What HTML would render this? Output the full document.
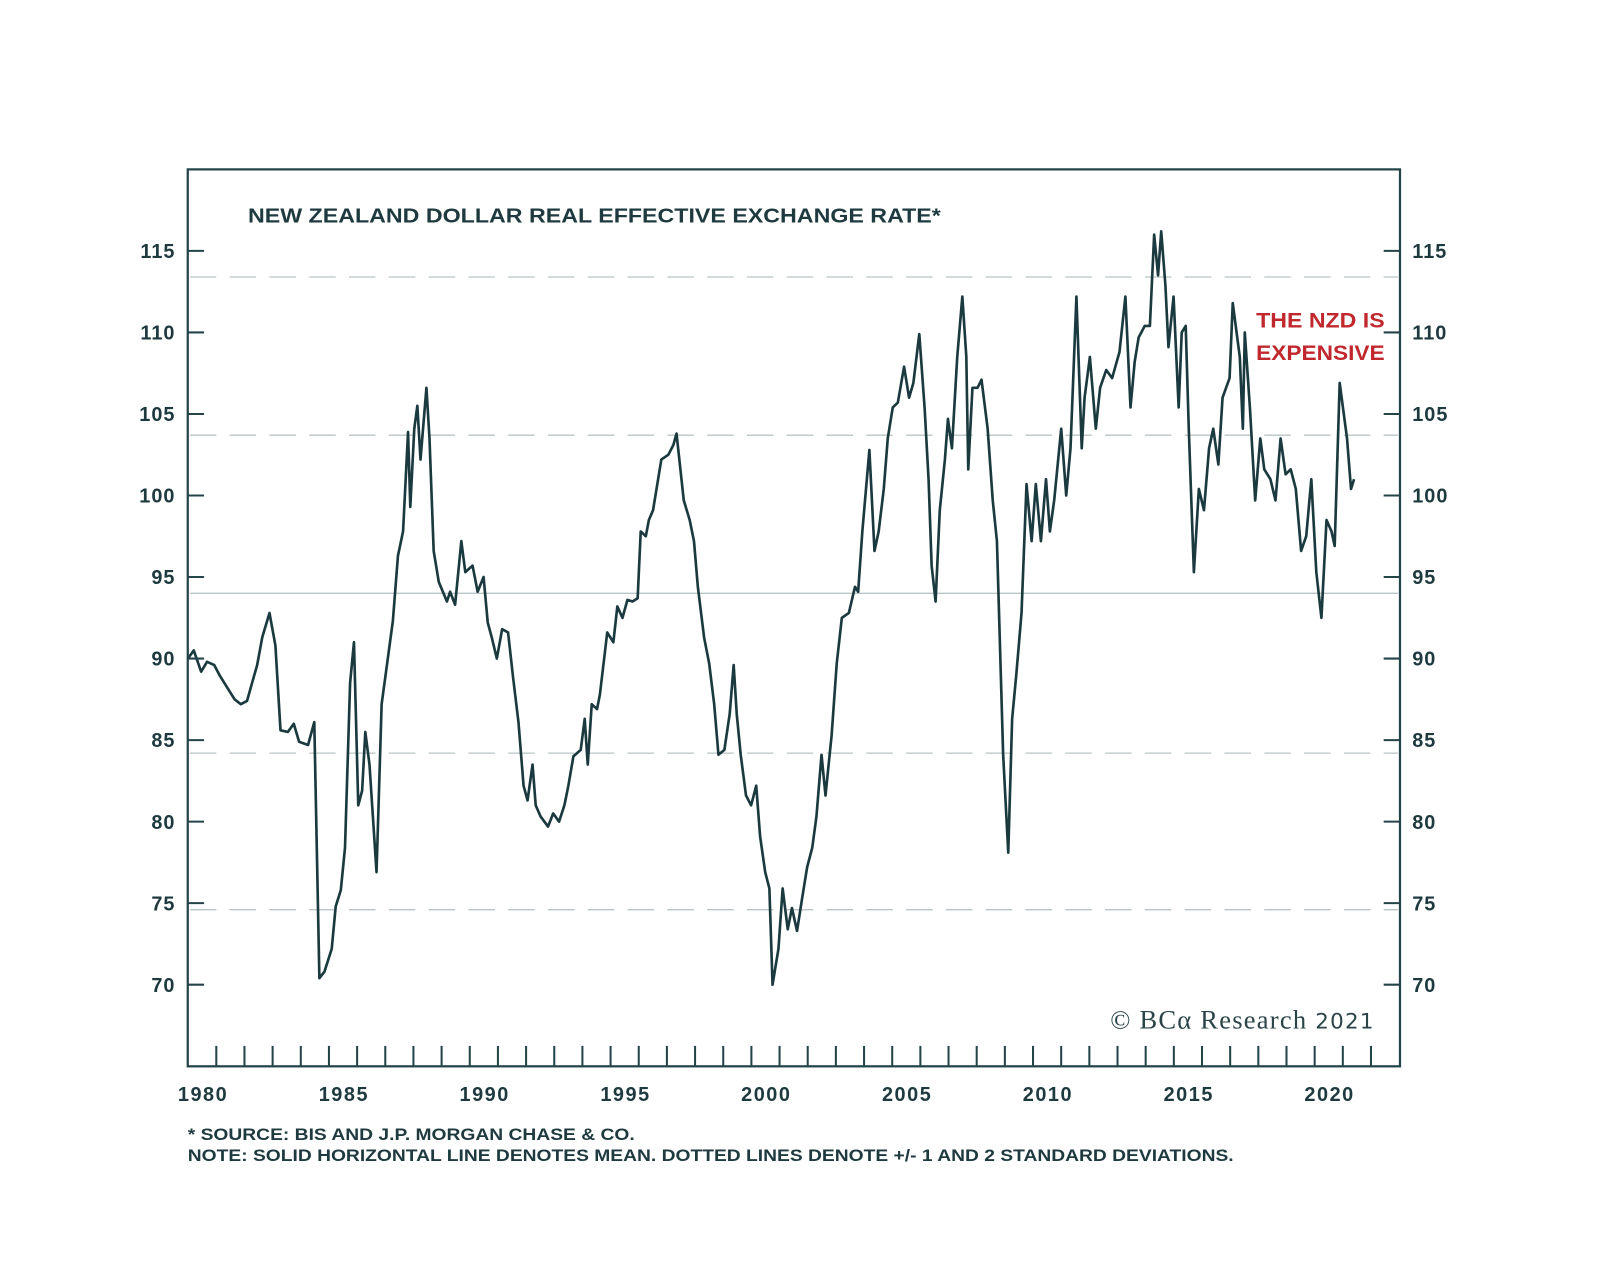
<!DOCTYPE html>
<html><head><meta charset="utf-8">
<style>
html,body{margin:0;padding:0;background:#fff;width:1600px;height:1277px;overflow:hidden}
svg{display:block}
text{font-family:"Liberation Sans",sans-serif;fill:#1e3a3f}
</style></head>
<body>
<svg id="chart" width="1600" height="1277" viewBox="0 0 1600 1277" xmlns="http://www.w3.org/2000/svg">
  <rect x="0" y="0" width="1600" height="1277" fill="#fff"/>
  <g transform="scale(1.0204)">
  <g id="grid"></g>
  <g id="series"></g>
  <g id="axes"></g>
  <rect x="184" y="166" width="1188" height="879" fill="none" stroke="#24444a" stroke-width="2.2"/>
  <text x="243" y="218" font-size="19.5" font-weight="bold" textLength="679" lengthAdjust="spacingAndGlyphs">NEW ZEALAND DOLLAR REAL EFFECTIVE EXCHANGE RATE*</text>
  <text x="1231" y="321" font-size="21" font-weight="bold" style="fill:#c1282e" textLength="126" lengthAdjust="spacingAndGlyphs">THE NZD IS</text>
  <text x="1231" y="353" font-size="21" font-weight="bold" style="fill:#c1282e" textLength="126" lengthAdjust="spacingAndGlyphs">EXPENSIVE</text>
  <text x="1088" y="1008" font-size="26" style="font-family:'Liberation Serif',serif;fill:#2a4448" textLength="258">© BCα Research <tspan font-size="21" style="font-family:'DejaVu Sans',sans-serif">2021</tspan></text>
  <text x="184" y="1117" font-size="16" font-weight="bold" textLength="438" lengthAdjust="spacingAndGlyphs">* SOURCE: BIS AND J.P. MORGAN CHASE &amp; CO.</text>
  <text x="184" y="1138" font-size="16" font-weight="bold" textLength="1025" lengthAdjust="spacingAndGlyphs">NOTE: SOLID HORIZONTAL LINE DENOTES MEAN. DOTTED LINES DENOTE +/- 1 AND 2 STANDARD DEVIATIONS.</text>
  </g>
</svg>
<script>
const years = [1979.46,1979.67,1979.93,1980.14,1980.40,1980.58,1980.83,1981.12,1981.34,1981.56,1981.74,1981.92,1982.10,1982.36,1982.57,1982.75,1983.01,1983.22,1983.41,1983.73,1983.95,1984.13,1984.31,1984.57,1984.71,1984.89,1985.04,1985.22,1985.36,1985.51,1985.65,1985.76,1985.91,1986.16,1986.34,1986.49,1986.74,1986.92,1987.10,1987.28,1987.36,1987.50,1987.61,1987.72,1987.93,1988.04,1988.19,1988.37,1988.66,1988.77,1988.95,1989.17,1989.31,1989.57,1989.75,1989.96,1990.11,1990.25,1990.43,1990.62,1990.83,1991.01,1991.20,1991.38,1991.52,1991.70,1991.81,1991.99,1992.25,1992.43,1992.64,1992.83,1992.97,1993.15,1993.41,1993.55,1993.66,1993.80,1993.99,1994.09,1994.35,1994.57,1994.71,1994.89,1995.07,1995.25,1995.43,1995.54,1995.72,1995.83,1995.98,1996.27,1996.52,1996.70,1996.81,1997.07,1997.28,1997.43,1997.57,1997.79,1997.97,1998.15,1998.30,1998.51,1998.70,1998.84,1998.95,1999.09,1999.28,1999.46,1999.64,1999.78,1999.96,2000.11,2000.22,2000.43,2000.58,2000.76,2000.91,2001.09,2001.27,2001.45,2001.63,2001.78,2001.96,2002.10,2002.32,2002.50,2002.68,2002.93,2003.15,2003.26,2003.41,2003.66,2003.84,2003.99,2004.17,2004.31,2004.49,2004.67,2004.89,2005.07,2005.22,2005.43,2005.62,2005.76,2005.87,2006.01,2006.16,2006.34,2006.45,2006.59,2006.78,2006.96,2007.10,2007.17,2007.32,2007.50,2007.64,2007.86,2008.04,2008.19,2008.41,2008.59,2008.73,2008.88,2009.06,2009.24,2009.42,2009.57,2009.75,2009.93,2010.07,2010.22,2010.47,2010.65,2010.80,2011.01,2011.20,2011.30,2011.49,2011.70,2011.85,2012.07,2012.28,2012.54,2012.75,2012.93,2013.08,2013.22,2013.44,2013.62,2013.77,2013.91,2014.02,2014.17,2014.28,2014.46,2014.64,2014.75,2014.89,2015.00,2015.18,2015.36,2015.54,2015.72,2015.87,2016.05,2016.20,2016.45,2016.56,2016.81,2016.92,2016.99,2017.17,2017.36,2017.54,2017.68,2017.90,2018.08,2018.26,2018.44,2018.62,2018.80,2018.99,2019.17,2019.35,2019.53,2019.71,2019.89,2020.07,2020.18,2020.36,2020.62,2020.76,2020.87];
const reer = [90.0,90.5,89.2,89.8,89.6,89.0,88.3,87.5,87.2,87.4,88.5,89.6,91.3,92.8,90.8,85.6,85.5,86.0,84.9,84.7,86.1,70.4,70.8,72.2,74.8,75.8,78.4,88.5,91.0,81.0,81.9,85.5,83.5,76.9,87.2,89.1,92.3,96.3,97.8,103.9,99.3,104.1,105.5,102.2,106.6,103.5,96.6,94.7,93.5,94.1,93.3,97.2,95.3,95.7,94.1,95.0,92.2,91.3,90.0,91.8,91.6,88.8,86.1,82.2,81.3,83.5,81.0,80.3,79.7,80.5,80.0,81.0,82.2,84.0,84.4,86.3,83.5,87.2,86.9,87.8,91.6,91.0,93.2,92.5,93.6,93.5,93.7,97.8,97.5,98.5,99.1,102.2,102.5,103.1,103.8,99.7,98.5,97.2,94.4,91.3,89.7,87.2,84.1,84.4,86.6,89.6,86.6,84.1,81.6,81.0,82.2,79.1,76.9,75.9,70.0,72.2,75.9,73.4,74.7,73.3,75.3,77.2,78.4,80.3,84.1,81.6,85.3,89.7,92.5,92.8,94.4,94.1,97.8,102.8,96.6,97.8,100.4,103.5,105.4,105.7,107.9,106.0,106.9,109.9,105.4,101.0,95.7,93.5,99.1,102.2,104.7,102.9,108.5,112.2,108.5,101.6,106.6,106.6,107.1,104.1,99.7,97.2,84.1,78.1,86.3,89.1,92.8,100.7,97.2,100.7,97.2,101.0,97.8,99.7,104.1,100.0,102.9,112.2,102.9,106.0,108.5,104.1,106.6,107.7,107.2,108.8,112.2,105.4,108.2,109.7,110.4,110.4,116.0,113.5,116.2,112.9,109.1,112.2,105.4,110.0,110.4,104.1,95.3,100.4,99.1,102.9,104.1,101.9,106.0,107.2,111.8,108.5,104.1,110.0,105.4,99.7,103.5,101.6,101.0,99.7,103.5,101.3,101.6,100.4,96.6,97.5,101.0,95.3,92.5,98.5,97.8,96.9,106.9,103.5,100.4,101.0];
const yTicks = [70,75,80,85,90,95,100,105,110,115];
const xLabels = [1980,1985,1990,1995,2000,2005,2010,2015,2020];
const meanLevel = [94.0];
const sdLevels = [74.6,84.2,103.7,113.4];

const NS = 'http://www.w3.org/2000/svg';
function xScale(t){ return 199 + (t - 1980) * 27.6; }
function yScale(v){ return 965 - (v - 70) * 15.98; }
function mk(tag, attrs, parent){ const e = document.createElementNS(NS, tag); for (const k in attrs) e.setAttribute(k, attrs[k]); parent.appendChild(e); return e; }

const grid = document.getElementById('grid');
const axes = document.getElementById('axes');
const series = document.getElementById('series');

sdLevels.forEach(v => {
  const l = mk('line', {x1:186, x2:1370, y1:yScale(v), y2:yScale(v), stroke:'#b9c4c6', 'stroke-width':1.3, 'stroke-dasharray':'26 13'}, grid);
  
  
});
meanLevel.forEach(v => {
  const l = mk('line', {x1:186, x2:1370, y1:yScale(v), y2:yScale(v), stroke:'#b9c4c6', 'stroke-width':1.3}, grid);
  
  
});

yTicks.forEach(v => {
  const y = yScale(v);
  const t1 = mk('line', {x1:184, x2:200, y1:y, y2:y, stroke:'#24444a', 'stroke-width':2}, axes);
  
  
  const t2 = mk('line', {x1:1356, x2:1372, y1:y, y2:y, stroke:'#24444a', 'stroke-width':2}, axes);
  
  
  const a = mk('text', {x:172, y:y+7, 'text-anchor':'end', 'font-size':19.5, 'font-weight':'bold', 'letter-spacing':1}, axes);
  a.textContent = v;
  
  
  const b = mk('text', {x:1384, y:y+7, 'text-anchor':'start', 'font-size':19.5, 'font-weight':'bold', 'letter-spacing':1}, axes);
  b.textContent = v;
  
  
});

for (let yr = 1980; yr <= 2021; yr++) {
  const x = xScale(yr + 0.47);
  const t = mk('line', {x1:x, x2:x, y1:1025, y2:1045, stroke:'#24444a', 'stroke-width':2}, axes);
  
  
}
xLabels.forEach(yr => {
  const t = mk('text', {x:xScale(yr), y:1079, 'text-anchor':'middle', 'font-size':19.5, 'font-weight':'bold', 'letter-spacing':1.5}, axes);
  t.textContent = yr;
  
  
});

const d = years.map((t, i) => (i ? 'L' : 'M') + xScale(t).toFixed(1) + ',' + yScale(reer[i]).toFixed(1)).join(' ');
const p = mk('path', {d:d, fill:'none', stroke:'#1b3a3f', 'stroke-width':2.6, 'stroke-linejoin':'round'}, series);


</script>
</body></html>
